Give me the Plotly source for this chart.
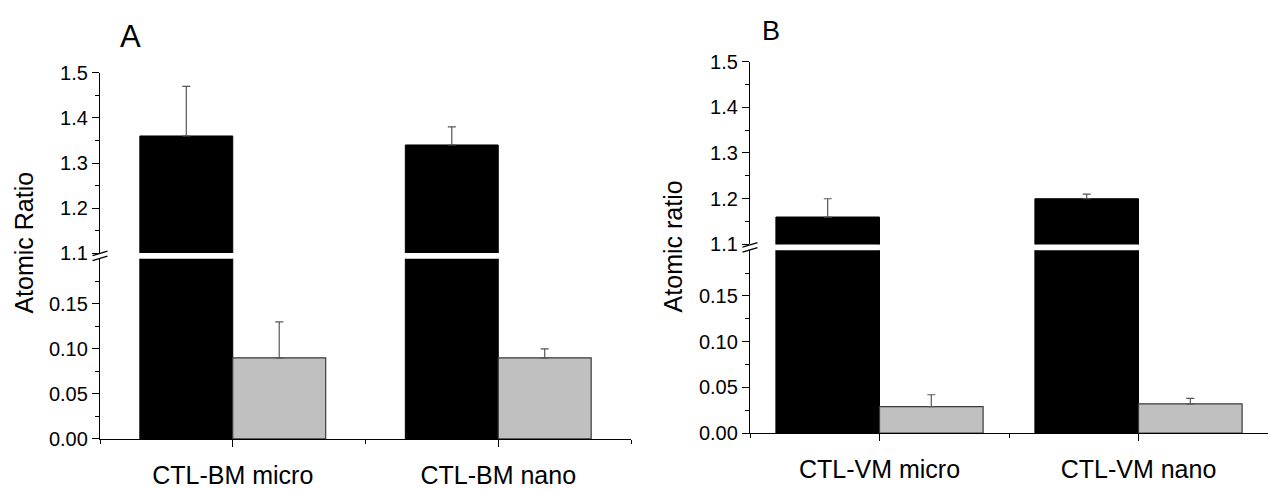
import plotly.graph_objects as go

# ---- data ----
cats_A = ["CTL-BM micro", "CTL-BM nano"]
black_A = [1.36, 1.34]
black_A_err = [0.11, 0.04]
grey_A = [0.09, 0.09]
grey_A_err = [0.04, 0.01]

cats_B = ["CTL-VM micro", "CTL-VM nano"]
black_B = [1.16, 1.20]
black_B_err = [0.04, 0.01]
grey_B = [0.029, 0.032]
grey_B_err = [0.013, 0.006]

low_ticks = [0.00, 0.05, 0.10, 0.15]
low_minor = [0.025, 0.075, 0.125, 0.175]
high_ticks = [1.1, 1.2, 1.3, 1.4, 1.5]
high_minor = [1.15, 1.25, 1.35, 1.45]

W, H = 1268, 489
FONT = "Liberation Sans"

def px(v):  # x pixel -> paper
    return v / W

def py(v):  # y pixel (from top) -> paper
    return (H - v) / H

fig = go.Figure()

def add_panel(cats, black, black_err, grey, grey_err, xa, ylo, yhi, bw):
    idx = list(range(len(cats)))
    for ya in (ylo, yhi):
        fig.add_trace(go.Bar(
            x=idx, y=black, width=bw, offset=-bw,
            marker=dict(color="#000000", line=dict(color="#000000", width=1)),
            error_y=dict(type="data", symmetric=False, array=black_err,
                         arrayminus=[0] * len(black), color="#555555",
                         thickness=1.2, width=4),
            xaxis=xa, yaxis=ya, showlegend=False))
        fig.add_trace(go.Bar(
            x=idx, y=grey, width=bw, offset=0,
            marker=dict(color="#c0c0c0", line=dict(color="#3a3a3a", width=1.2)),
            error_y=dict(type="data", symmetric=False, array=grey_err,
                         arrayminus=[0] * len(grey), color="#555555",
                         thickness=1.2, width=4),
            xaxis=xa, yaxis=ya, showlegend=False))

add_panel(cats_A, black_A, black_A_err, grey_A, grey_A_err, "x", "y", "y2", 0.35)
add_panel(cats_B, black_B, black_B_err, grey_B, grey_B_err, "x2", "y3", "y4", 0.40)

tickfont = dict(family=FONT, size=20, color="#000")
common_y = dict(showline=True, linecolor="#000", linewidth=1.3, ticks="outside",
                ticklen=7, tickwidth=1.3, tickcolor="#000", showgrid=False,
                zeroline=False, tickfont=tickfont, tickmode="array")

def xaxis_cfg(domain, cats, anchor):
    return dict(domain=domain, range=[-0.5, 1.5], anchor=anchor,
                tickmode="array", tickvals=list(range(len(cats))), ticktext=cats,
                showline=True, linecolor="#000", linewidth=1.3, ticks="outside",
                ticklen=7, tickwidth=1.3, tickcolor="#000", showgrid=False,
                zeroline=False, tickfont=dict(family=FONT, size=25, color="#000"),
                ticklabelstandoff=7,
                minor=dict(tickmode="array", tickvals=[-0.5, 0.5, 1.5], ticks="outside",
                           ticklen=4, tickwidth=1.3, tickcolor="#000", showgrid=False))

# Panel A geometry (pixels)
A_left, A_right = 100, 631
A_low = (449, 260)
A_high = (254, 65)
# Panel B geometry
B_left, B_right = 750, 1268
B_low = (443, 251)
B_high = (245, 53)

fig.update_layout(
    width=W, height=H, margin=dict(l=0, r=0, t=0, b=0),
    paper_bgcolor="white", plot_bgcolor="white",
    barmode="overlay", font=dict(family=FONT, color="#000"),
    xaxis=xaxis_cfg([px(A_left), px(A_right)], cats_A, "y"),
    xaxis2=xaxis_cfg([px(B_left), min(1.0, px(B_right))], cats_B, "y3"),
    yaxis=dict(domain=[py(A_low[0]), py(A_low[1])], range=[0, 0.2], anchor="x",
               tickvals=low_ticks, tickformat=".2f",
               minor=dict(tickmode="array", tickvals=low_minor, ticks="outside", ticklen=4,
                          tickwidth=1.3, tickcolor="#000", showgrid=False), **common_y),
    yaxis2=dict(domain=[py(A_high[0]), py(A_high[1])], range=[1.1, 1.5], anchor="x",
                tickvals=high_ticks, tickformat=".1f",
                minor=dict(tickmode="array", tickvals=high_minor, ticks="outside", ticklen=4,
                           tickwidth=1.3, tickcolor="#000", showgrid=False), **common_y),
    yaxis3=dict(domain=[py(B_low[0]), py(B_low[1])], range=[0, 0.2], anchor="x2",
                tickvals=low_ticks, tickformat=".2f",
                minor=dict(tickmode="array", tickvals=low_minor, ticks="outside", ticklen=4,
                           tickwidth=1.3, tickcolor="#000", showgrid=False), **common_y),
    yaxis4=dict(domain=[py(B_high[0]), py(B_high[1])], range=[1.1, 1.5], anchor="x2",
                tickvals=high_ticks, tickformat=".1f",
                minor=dict(tickmode="array", tickvals=high_minor, ticks="outside", ticklen=4,
                           tickwidth=1.3, tickcolor="#000", showgrid=False), **common_y),
)

# axis break marks
def break_marks(xref, y_top_low, y_bot_high):
    yc = py((y_top_low + y_bot_high) / 2)
    for dy in (2.5, -2.5):
        fig.add_shape(type="line", xref=xref, yref="paper",
                      xsizemode="pixel", xanchor=0, ysizemode="pixel", yanchor=yc,
                      x0=-7.5, x1=7.5, y0=dy - 2.2, y1=dy + 2.2,
                      line=dict(color="#000", width=1.3))

break_marks("x domain", A_low[1], A_high[0])
break_marks("x2 domain", B_low[1], B_high[0])

# axis titles and panel letters
fig.add_annotation(text="Atomic Ratio", x=px(24), y=py(243), xref="paper", yref="paper",
                   textangle=-90, showarrow=False, font=dict(size=25, family=FONT),
                   xanchor="center", yanchor="middle")
fig.add_annotation(text="Atomic ratio", x=px(673), y=py(247), xref="paper", yref="paper",
                   textangle=-90, showarrow=False, font=dict(size=25, family=FONT),
                   xanchor="center", yanchor="middle")
fig.add_annotation(text="A", x=px(130), y=py(27), xref="paper", yref="paper",
                   showarrow=False, font=dict(size=31, family=FONT),
                   xanchor="center", yanchor="middle")
fig.add_annotation(text="B", x=px(771), y=py(21), xref="paper", yref="paper",
                   showarrow=False, font=dict(size=27, family=FONT),
                   xanchor="center", yanchor="middle")

fig.write_html("out.html")
